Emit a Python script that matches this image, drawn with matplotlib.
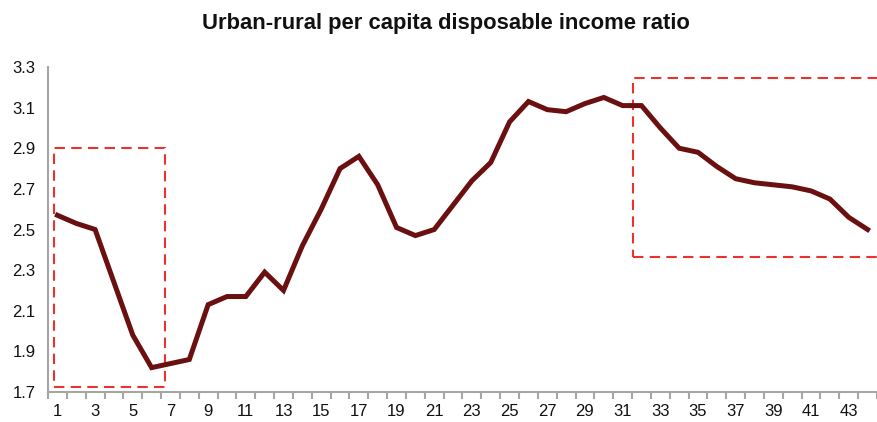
import matplotlib.pyplot as plt
from matplotlib.patches import Rectangle

plt.rcParams['font.family'] = ['Liberation Sans', 'DejaVu Sans']

# urban-rural per capita disposable income ratio
periods = list(range(1, 45))
ratio = [2.57, 2.53, 2.50, 2.24, 1.98, 1.82, 1.84, 1.86, 2.13, 2.17,
         2.17, 2.29, 2.20, 2.42, 2.60, 2.80, 2.86, 2.72, 2.51, 2.47,
         2.50, 2.62, 2.74, 2.83, 3.03, 3.13, 3.09, 3.08, 3.12, 3.15,
         3.11, 3.11, 3.00, 2.90, 2.88, 2.81, 2.75, 2.73, 2.72, 2.71,
         2.69, 2.65, 2.56, 2.50]
label_ticks = list(range(1, 45, 2))

# highlighted windows: (x0, x1, y0, y1)
box_early = (0.8, 6.7, 1.725, 2.9)
box_late = (31.57, 45.0, 2.365, 3.245)

fig = plt.figure(figsize=(8.77, 4.22), dpi=100)
ax = fig.add_axes([48 / 877, 30 / 422, 1 - 48 / 877, 325 / 422])

ax.plot(periods, ratio, color='#6B1010', lw=3.6, solid_joinstyle='miter', zorder=3)

for x0, x1, y0, y1 in [box_early, box_late]:
    ax.add_patch(Rectangle((x0, y0), x1 - x0, y1 - y0, fill=False,
                           edgecolor='#E8332E', lw=1.5, linestyle=(0, (5, 3)), zorder=2))

ax.set_xlim(0.5, 0.5 + (877 - 48) / 19)
ax.set_ylim(1.7, 3.3)
ax.set_yticks([1.7, 1.9, 2.1, 2.3, 2.5, 2.7, 2.9, 3.1, 3.3])
ax.set_yticklabels(['1.7', '1.9', '2.1', '2.3', '2.5', '2.7', '2.9', '3.1', '3.3'])

ax.set_xticks(label_ticks)
ax.set_xticklabels([str(t) for t in label_ticks])
ax.set_xticks([p - 0.5 for p in periods] + [44.5], minor=True)

for s in ['top', 'right']:
    ax.spines[s].set_visible(False)
for s in ['left', 'bottom']:
    ax.spines[s].set_color('#A6A6A6')
    ax.spines[s].set_linewidth(1.5)

ax.tick_params(axis='y', length=0, pad=9, labelsize=12, labelcolor='#111111')
ax.tick_params(axis='x', which='major', length=0, pad=9, labelsize=12, labelcolor='#111111')
ax.tick_params(axis='x', which='minor', length=5, width=1.5, color='#A6A6A6')

fig.text(445.5 / 877, 1 - 24 / 422, 'Urban-rural per capita disposable income ratio',
         ha='center', va='center', fontsize=15.8, fontweight='bold', color='#111111')

fig.savefig('out.png', dpi=100)
